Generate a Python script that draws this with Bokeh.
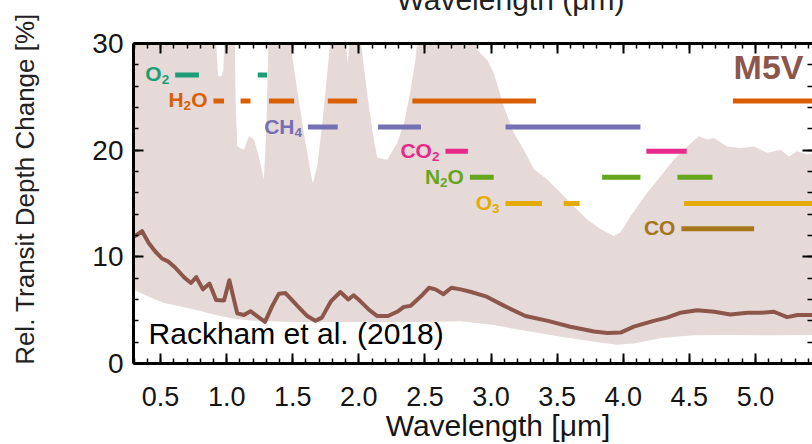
from bokeh.plotting import figure
from bokeh.models import (Range1d, LinearAxis, SingleIntervalTicker,
                          PrintfTickFormatter, CustomJSTickFormatter, Label)
from bokeh.core.properties import value
from bokeh.embed import file_html
from bokeh.resources import INLINE

# ---------------- data ----------------
# median relative transit depth change (%)
med_wl = [0.30, 0.36, 0.41, 0.46, 0.51, 0.56, 0.61, 0.68, 0.73, 0.77, 0.82, 0.87,
          0.92, 0.98, 1.02, 1.08, 1.13, 1.18, 1.23, 1.29, 1.345, 1.395, 1.445, 1.535,
          1.61, 1.67, 1.72, 1.79, 1.86, 1.92, 1.96, 2.01, 2.08, 2.14, 2.22, 2.29,
          2.34, 2.39, 2.47, 2.53, 2.58, 2.64, 2.70, 2.77, 2.85, 2.96, 3.10, 3.26,
          3.43, 3.60, 3.78, 3.88, 3.98, 4.08, 4.23, 4.33, 4.43, 4.56, 4.69, 4.81,
          4.94, 5.04, 5.14, 5.24, 5.32, 5.44]
med_val = [11.9, 12.4, 11.3, 10.5, 9.85, 9.55, 9.0, 8.05, 7.55, 8.1, 6.95, 7.5,
           5.95, 5.9, 7.8, 4.7, 4.55, 4.9, 4.45, 3.9, 5.4, 6.55, 6.6, 5.4,
           4.45, 4.0, 4.3, 5.85, 6.7, 6.0, 6.4, 5.85, 5.0, 4.45, 4.45, 4.85,
           5.3, 5.4, 6.3, 7.1, 6.95, 6.5, 7.1, 6.95, 6.7, 6.3, 5.4, 4.45,
           4.0, 3.45, 3.0, 2.87, 2.9, 3.45, 4.0, 4.3, 4.75, 5.0, 4.85, 4.6,
           4.75, 4.75, 4.85, 4.35, 4.55, 4.55]

# upper envelope of the range
up_wl = [0.30, 0.90, 0.915, 0.925, 0.935, 0.96, 0.975, 0.985, 1.06, 1.067, 1.08, 1.10,
         1.13, 1.168, 1.206, 1.244, 1.281, 1.30, 1.32, 1.48, 1.496, 1.534, 1.584, 1.635,
         1.652, 1.685, 1.723, 1.761, 1.786, 1.89, 1.905, 1.915, 1.925, 1.94, 2.00, 2.013,
         2.038, 2.076, 2.113, 2.139, 2.215, 2.29, 2.341, 2.391, 2.429, 2.454, 2.88, 2.896,
         2.971, 3.021, 3.097, 3.173, 3.248, 3.324, 3.425, 3.526, 3.626, 3.728, 3.828, 3.929,
         3.98, 4.055, 4.182, 4.282, 4.383, 4.484, 4.572, 4.635, 4.685, 4.786, 4.887, 4.988,
         5.089, 5.19, 5.253, 5.316, 5.392, 5.44]
up_val = [32, 32, 31, 29, 27, 26.9, 27.5, 32, 32, 25, 20.4, 20.2,
          20.05, 21.3, 21.0, 19.4, 17.25, 22, 32, 32, 28.8, 25.6, 21.6, 17.9,
          16.9, 18.5, 22.5, 27.2, 30.5, 32, 29.5, 28.1, 29.5, 32, 32, 30.5,
          27.8, 24.1, 21.0, 19.3, 19.1, 20.7, 22.5, 25.6, 28.5, 32, 32, 29.4,
          28.45, 27.2, 24.1, 21.6, 20.05, 18.2, 17.25, 16.0, 14.75, 13.5, 12.6, 11.95,
          12.3, 13.8, 16.0, 17.55, 19.1, 20.35, 21.3, 21.0, 21.15, 20.35, 20.2, 20.35,
          19.75, 20.05, 19.4, 19.9, 19.6, 19.75]

# lower envelope of the range
lo_wl = [0.30, 0.35, 0.42, 0.52, 0.65, 0.78, 0.90, 1.03, 1.20, 1.50, 2.00, 2.50,
         2.77, 3.02, 3.27, 3.53, 3.78, 3.95, 4.08, 4.28, 4.53, 4.79, 5.10, 5.44]
lo_val = [6.9, 6.6, 6.2, 5.7, 5.35, 5.0, 4.6, 4.25, 4.0, 3.9, 3.9, 3.9,
          3.95, 3.6, 3.05, 2.5, 2.05, 1.75, 1.87, 2.37, 2.65, 2.68, 2.65, 2.68]

# molecular absorption bands (start, end) in micron
molecules = ["O2", "H2O", "CH4", "CO2", "N2O", "O3", "CO"]
band_levels = [27.05, 24.62, 22.17, 19.89, 17.46, 15.0, 12.64]
bands = {
    "O2":  [(0.61, 0.79), (1.235, 1.305)],
    "H2O": [(0.90, 0.98), (1.105, 1.18), (1.32, 1.51), (1.765, 1.985), (2.405, 3.34), (4.83, 5.5)],
    "CH4": [(1.615, 1.84), (2.145, 2.47), (3.11, 4.13)],
    "CO2": [(2.655, 2.825), (4.175, 4.48)],
    "N2O": [(2.84, 3.02), (3.84, 4.13), (4.41, 4.675)],
    "O3":  [(3.11, 3.385), (3.55, 3.67), (4.46, 5.5)],
    "CO":  [(4.44, 4.99)],
}
label_parts = {
    "O2":  [("O", False), ("2", True)],
    "H2O": [("H", False), ("2", True), ("O", False)],
    "CH4": [("C", False), ("H", False), ("4", True)],
    "CO2": [("C", False), ("O", False), ("2", True)],
    "N2O": [("N", False), ("2", True), ("O", False)],
    "O3":  [("O", False), ("3", True)],
    "CO":  [("C", False), ("O", False)],
}
mol_colors = ["#1b9e77", "#d95f02", "#7570b3", "#e7298a", "#66a61e", "#e6ab02", "#a6761d"]

x_ticks_interval = 0.5
y_ticks_interval = 10
NB = "\u00a0"
x_title = NB * 6 + "Wavelength [μm]"
top_title = NB * 9 + "Wavelength (μm)"
y_title = NB * 4 + "Rel. Transit Depth Change [%]"
star_label = "M5V"
ref_label = "Rackham et al. (2018)"

# ---------------- figure ----------------
FONT = "Liberation Sans"
p = figure(width=812, height=470, output_backend="svg", toolbar_location=None,
           x_range=Range1d(0.295, 5.432), y_range=Range1d(0, 30),
           x_axis_type=None, y_axis_type=None,
           min_border_left=133, min_border_right=0, min_border_top=62,
           min_border_bottom=86, margin=(-21, 0, 0, 0))
p.outline_line_color = None
p.background_fill_color = "white"
p.border_fill_color = "white"


def style_axis(ax, interval, show_labels, size="26px", standoff=17, line=True):
    ax.ticker = SingleIntervalTicker(interval=interval, num_minor_ticks=5)
    ax.major_tick_in = 10
    ax.major_tick_out = 0
    ax.minor_tick_in = 5
    ax.minor_tick_out = 0
    ax.major_tick_line_width = 2
    ax.minor_tick_line_width = 1.5
    ax.major_tick_line_color = "black"
    ax.minor_tick_line_color = "black"
    ax.axis_line_width = 3
    ax.axis_line_color = "black" if line else None
    ax.axis_label_text_font = FONT
    ax.axis_label_text_font_style = "normal"
    if show_labels:
        ax.major_label_text_font = FONT
        ax.major_label_text_font_size = size
        ax.major_label_text_color = "#151515"
        ax.major_label_standoff = standoff
    else:
        ax.formatter = CustomJSTickFormatter(code="return ''")
        ax.major_label_text_font_size = "0px"
        ax.major_label_standoff = 0


xb = LinearAxis(formatter=PrintfTickFormatter(format="%.1f"))
style_axis(xb, x_ticks_interval, True, "27px", 23)
xb.axis_label = x_title
xb.axis_label_text_font_size = "30px"
xb.axis_label_text_color = "#151515"
xb.axis_label_standoff = 0
p.add_layout(xb, "below")

xt = LinearAxis()
style_axis(xt, x_ticks_interval, False)
xt.axis_label = top_title
xt.axis_label_text_font_size = "30px"
xt.axis_label_text_color = "#222222"
xt.axis_label_standoff = 28
p.add_layout(xt, "above")

yl = LinearAxis()
style_axis(yl, y_ticks_interval, True, "28px", 10)
yl.axis_label = y_title
yl.axis_label_text_font_size = "26px"
yl.axis_label_text_color = "#222222"
yl.axis_label_standoff = 49
p.add_layout(yl, "left")

yr = LinearAxis()
style_axis(yr, y_ticks_interval, False, line=False)
p.add_layout(yr, "right")

# shaded range
p.patch(x=up_wl + lo_wl[::-1], y=up_val + lo_val[::-1],
        fill_color="#e5dad7", line_color=None)

# median line
p.line(med_wl, med_val, line_color="#8c564b", line_width=4, line_join="round")

# molecular bands
wmap = {"O": 0.778, "H": 0.722, "C": 0.722, "N": 0.722, "2": 0.556, "3": 0.556, "4": 0.556}
MAIN, SUB = 21, 13.5
for mol, lvl, col in zip(molecules, band_levels, mol_colors):
    segs = bands[mol]
    p.segment(x0=[s for s, e in segs], y0=[lvl] * len(segs),
              x1=[e for s, e in segs], y1=[lvl] * len(segs),
              line_color=col, line_width=5, line_cap="butt")
    x_anchor = segs[0][0]
    off = 6
    for txt, sub in reversed(label_parts[mol]):
        size = SUB if sub else MAIN
        p.text(x=[x_anchor], y=[lvl], text=[txt], x_offset=-off,
               y_offset=(5 if sub else -1), text_align="right",
               text_baseline="alphabetic", text_font=value(FONT),
               text_font_style="bold", text_font_size=f"{size}px",
               text_color=col)
        off += wmap[txt] * size

# star type label
p.text(x=[5.364], y=[27.8], text=[star_label], text_align="right",
       text_baseline="alphabetic", text_font=value(FONT), text_font_style="bold",
       text_font_size="34px", text_color="#8c564b")

# reference label
p.add_layout(Label(x=0.409, y=2.8, text=ref_label, text_font=FONT,
                   text_font_size="30px", text_color="black",
                   text_align="left", text_baseline="alphabetic"))

open("out.html", "w").write(file_html(p, INLINE))
